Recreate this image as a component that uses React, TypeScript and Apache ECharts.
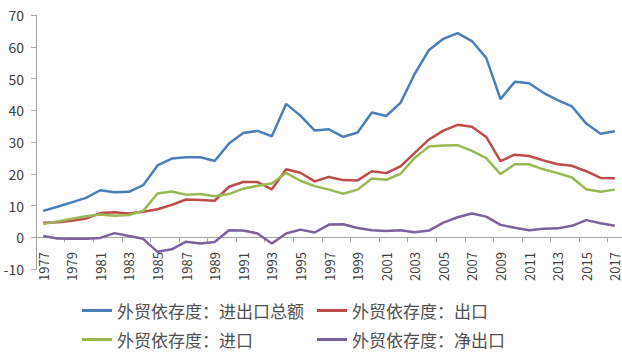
import React, { useEffect, useRef } from "react";
import * as echarts from "echarts";

const years: string[] = [];
for (let y = 1977; y <= 2017; y++) years.push(String(y));

const totalRatio = [8.3, 9.6, 11.0, 12.4, 14.8, 14.2, 14.3, 16.4, 22.6, 24.8, 25.2, 25.2, 24.0, 29.5, 32.8, 33.5, 31.8, 42.0, 38.3, 33.6, 34.0, 31.6, 33.0, 39.3, 38.2, 42.3, 51.5, 59.0, 62.5, 64.3, 61.8, 56.5, 43.5, 49.0, 48.5, 45.5, 43.2, 41.2, 35.8, 32.6, 33.4];
const exportRatio = [4.6, 4.7, 5.2, 5.9, 7.6, 7.9, 7.5, 8.0, 8.8, 10.2, 11.9, 11.7, 11.5, 15.9, 17.4, 17.4, 15.1, 21.4, 20.3, 17.6, 19.0, 18.0, 17.9, 20.8, 20.2, 22.3, 26.6, 30.8, 33.6, 35.4, 34.8, 31.6, 24.0, 26.0, 25.6, 24.2, 23.0, 22.5, 20.8, 18.7, 18.6];
const importRatio = [4.2, 5.0, 5.8, 6.6, 7.2, 6.8, 7.0, 8.3, 13.8, 14.4, 13.4, 13.6, 12.9, 13.6, 15.3, 16.2, 16.9, 20.3, 17.8, 16.1, 15.0, 13.7, 15.0, 18.5, 18.1, 20.0, 25.0, 28.6, 28.9, 29.0, 27.2, 24.9, 19.9, 23.0, 23.0, 21.4, 20.2, 18.8, 15.1, 14.3, 15.0];
const netRatio = [0.4, -0.4, -0.5, -0.5, -0.2, 1.3, 0.4, -0.5, -4.6, -3.8, -1.4, -2.0, -1.5, 2.2, 2.1, 1.2, -2.0, 1.2, 2.4, 1.5, 4.0, 4.1, 2.9, 2.2, 2.0, 2.2, 1.6, 2.1, 4.6, 6.3, 7.5, 6.5, 3.9, 3.0, 2.2, 2.7, 2.8, 3.6, 5.4, 4.4, 3.6];

const seriesNames = ["外贸依存度：进出口总额", "外贸依存度：出口", "外贸依存度：进口", "外贸依存度：净出口"];
const colors = ["#4A7EBB", "#BE4B48", "#98B954", "#7D60A0"];

const FONT = "Noto Sans CJK SC";

export default function App() {
  const ref = useRef<HTMLDivElement>(null);
  useEffect(() => {
    if (!ref.current) return;
    const chart = echarts.init(ref.current, null, { renderer: "svg" });
    const datas = [totalRatio, exportRatio, importRatio, netRatio];
    const legendCommon = {
      orient: "vertical" as const,
      icon: "rect",
      itemWidth: 30,
      itemHeight: 3,
      itemGap: 12,
      padding: 0,
      textStyle: { fontFamily: FONT, fontSize: 17, color: "#505050" },
    };
    chart.setOption({
      animation: false,
      color: colors,
      textStyle: { fontFamily: FONT },
      grid: { left: 36, right: -3, top: 15, bottom: 88, containLabel: false },
      legend: [
        { ...legendCommon, left: 82, top: 302, data: [seriesNames[0], seriesNames[2]] },
        { ...legendCommon, left: 317, top: 302, data: [seriesNames[1], seriesNames[3]] },
      ],
      xAxis: {
        type: "category",
        data: years,
        boundaryGap: true,
        axisLine: { onZero: true, lineStyle: { color: "#A6A6A6", width: 1 } },
        axisTick: { show: true, interval: 1, length: 5, lineStyle: { color: "#A6A6A6" } },
        axisLabel: { interval: 1, rotate: 90, fontFamily: FONT, fontSize: 13, color: "#404040", margin: -17 },
        splitLine: { show: false },
      },
      yAxis: {
        type: "value",
        min: -10,
        max: 70,
        interval: 10,
        axisLine: { show: true, lineStyle: { color: "#A6A6A6" } },
        axisTick: { show: true, length: 5, lineStyle: { color: "#A6A6A6" } },
        axisLabel: { fontFamily: FONT, fontSize: 14, color: "#404040", margin: 12 },
        splitLine: { show: false },
      },
      series: datas.map((d, i) => ({
        name: seriesNames[i],
        type: "line",
        data: d,
        symbol: "none",
        lineStyle: { width: 2.5, color: colors[i] },
        itemStyle: { color: colors[i] },
      })),
    });
    return () => chart.dispose();
  }, []);
  return <div ref={ref} style={{ width: 622, height: 357, position: "absolute", left: 0, top: 0 }} />;
}
